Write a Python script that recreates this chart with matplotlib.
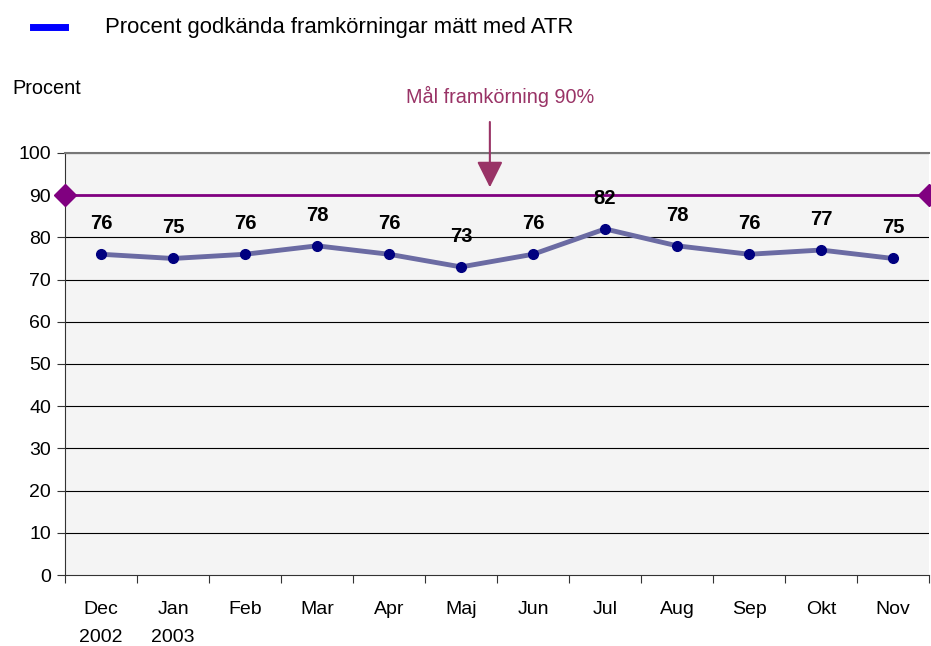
import numpy as np
import matplotlib.pyplot as plt
from matplotlib.lines import Line2D

plt.rcParams['font.family'] = ['Liberation Sans', 'DejaVu Sans']

# data
months = ["Dec\n2002", "Jan\n2003", "Feb", "Mar", "Apr", "Maj",
          "Jun", "Jul", "Aug", "Sep", "Okt", "Nov"]
godkanda = [76, 75, 76, 78, 76, 73, 76, 82, 78, 76, 77, 75]
mal = 90
yticks = list(range(0, 101, 10))

fig = plt.figure(figsize=(9.31, 6.46), dpi=100)
ax = fig.add_axes([0.0698, 0.1099, 0.9282, 0.6533])
ax.set_facecolor("#F4F4F4")

x = np.arange(len(months))
ax.set_xlim(-0.5, len(months) - 0.5)
ax.set_ylim(0, 100)

for v in yticks[1:]:
    ax.axhline(v, color="black", lw=0.8, zorder=1)

# target line with diamonds at the ends
ax.plot([-0.5, len(months) - 0.5], [mal, mal], color="#800080", lw=2,
        marker="D", markersize=11, clip_on=False, zorder=3)

# series
ax.plot(x, godkanda, color="#6B6BA3", lw=3.5, zorder=4)
ax.plot(x, godkanda, "o", color="#000080", markersize=7, zorder=5)
for xi, v in zip(x, godkanda):
    ax.annotate(str(v), (xi, v), xytext=(0, 22), textcoords="offset points",
                ha="center", va="center", fontsize=14.5, fontweight="bold")

# y axis
ax.set_yticks(yticks)
ax.tick_params(axis="y", length=6, labelsize=14, pad=4, color="#333333")
ax.set_xticks(np.arange(-0.5, len(months), 1))
ax.set_xticks(x, minor=True)
ax.set_xticklabels([])
ax.set_xticklabels(months, minor=True)
ax.tick_params(axis="x", which="major", length=6, color="#333333")
ax.tick_params(axis="x", which="minor", length=0, labelsize=14, pad=19)
for lab in ax.get_xticklabels(minor=True):
    lab.set_linespacing(1.85)

for s in ["left", "bottom"]:
    ax.spines[s].set_color("#333333")
ax.spines["top"].set_color("#777777")
ax.spines["top"].set_linewidth(1.5)
ax.spines["right"].set_visible(False)

# arrow and target text
ax.annotate("", xy=(5.4, 91.2), xytext=(5.4, 108),
            arrowprops=dict(arrowstyle="-|>,head_width=0.8,head_length=1.6",
                            color="#993366", lw=1.5), annotation_clip=False)
fig.text(500 / 931, 1 - 96 / 646, "Mål framkörning 90%", color="#993366",
         fontsize=14.3, ha="center", va="center")

fig.text(12 / 931, 1 - 89 / 646, "Procent", fontsize=14.3, ha="left", va="center")

# legend
fig.add_artist(Line2D([33 / 931, 65 / 931], [1 - 27 / 646, 1 - 27 / 646],
                      color="#0000FF", lw=5))
fig.text(105 / 931, 1 - 27 / 646, "Procent godkända framkörningar mätt med ATR",
         fontsize=15.9, ha="left", va="center")

fig.savefig("out.png", dpi=100)
